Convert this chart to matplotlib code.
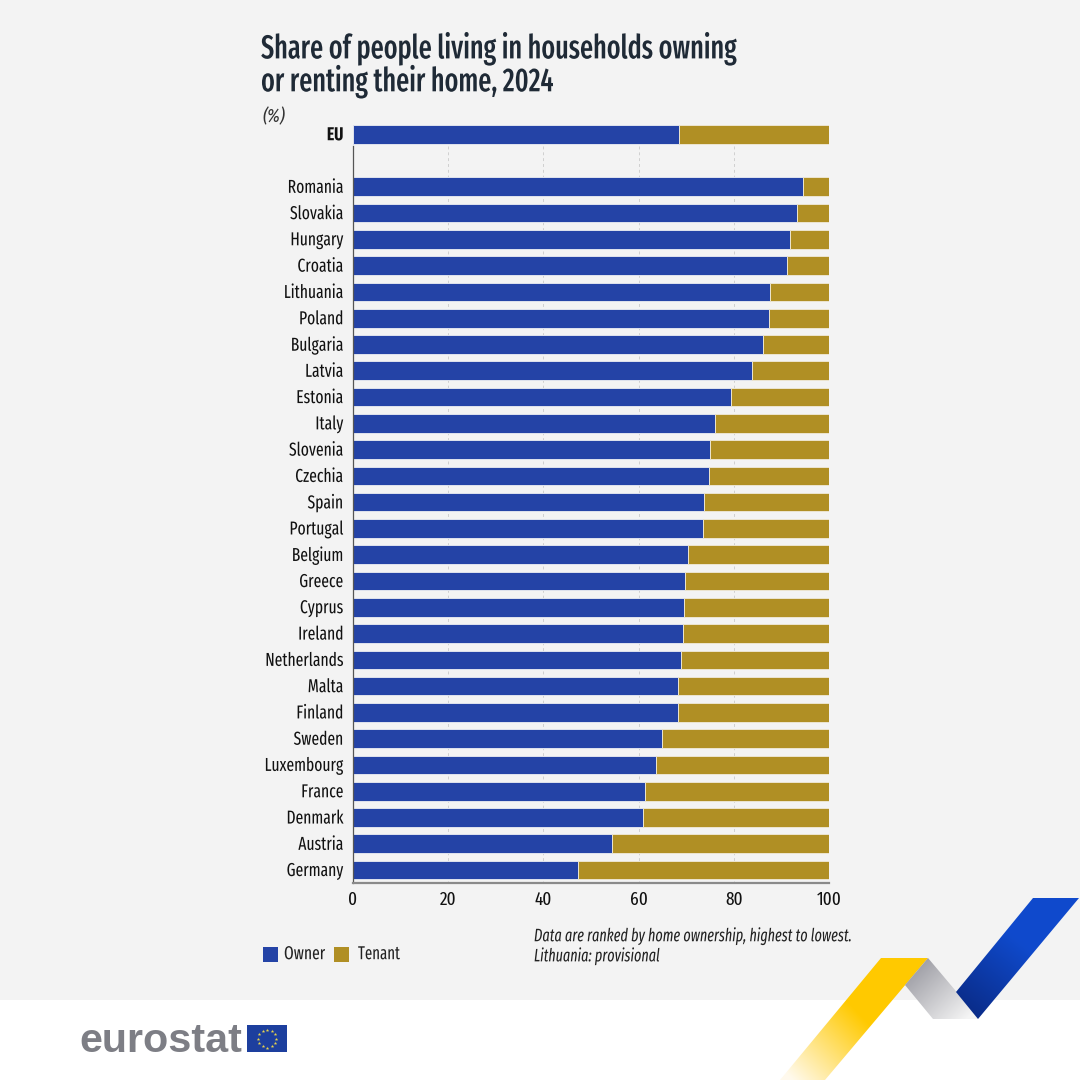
"""Home ownership and renting shares across the EU, 2024, as stacked bars."""

import matplotlib.pyplot as plt
import numpy as np
from matplotlib.patches import Polygon, Rectangle
from matplotlib.patheffects import AbstractPathEffect
from matplotlib.transforms import Affine2D

countries = [
    "EU", "", "Romania", "Slovakia", "Hungary", "Croatia", "Lithuania", "Poland",
    "Bulgaria", "Latvia", "Estonia", "Italy", "Slovenia", "Czechia", "Spain",
    "Portugal", "Belgium", "Greece", "Cyprus", "Ireland", "Netherlands", "Malta",
    "Finland", "Sweden", "Luxembourg", "France", "Denmark", "Austria", "Germany",
]
owner = [
    68.4, 0, 94.5, 93.3, 91.8, 91.2, 87.6, 87.4,
    86.1, 83.8, 79.4, 76.1, 75.0, 74.8, 73.7,
    73.5, 70.4, 69.7, 69.5, 69.4, 68.9, 68.3,
    68.2, 64.9, 63.6, 61.3, 60.9, 54.4, 47.3,
]
tenant = [
    31.6, 0, 5.5, 6.7, 8.2, 8.8, 12.4, 12.6,
    13.9, 16.2, 20.6, 23.9, 25.0, 25.2, 26.3,
    26.5, 29.6, 30.3, 30.5, 30.6, 31.1, 31.7,
    31.8, 35.1, 36.4, 38.7, 39.1, 45.6, 52.7,
]
x_ticks = [0, 20, 40, 60, 80, 100]

BLUE = "#2443a6"
GOLD = "#b08f24"
INK = "#1f2a36"
NARROW = ["Fira Sans Extra Condensed", "DejaVu Sans"]
LABEL_SIZE = 13.5
SIZE = 1080


class Squeeze(AbstractPathEffect):
    """Narrow text horizontally about a fixed x position given in pixels."""

    def __init__(self, factor, anchor_x, dy=0):
        super().__init__()
        self._squeeze = Affine2D().translate(-anchor_x, 0).scale(factor, 1).translate(anchor_x, dy)

    def draw_path(self, renderer, gc, tpath, affine, rgbFace=None):
        renderer.draw_path(gc, tpath, affine + self._squeeze, rgbFace)


def px(x, y):
    """Convert pixel coordinates (origin top left) to figure fractions."""
    return x / SIZE, 1 - y / SIZE


def gradient_polygon(ax, points, start, end, stops):
    """Fill a polygon with a linear gradient running from start to end."""
    xs = np.linspace(0, SIZE, 540)
    ys = np.linspace(0, SIZE, 540)
    gx, gy = np.meshgrid(xs, ys)
    dx, dy = end[0] - start[0], end[1] - start[1]
    t = np.clip(((gx - start[0]) * dx + (gy - start[1]) * dy) / (dx**2 + dy**2), 0, 1)
    rgb = np.stack([np.interp(t, [0, 1], [stops[0][i], stops[1][i]]) for i in range(3)], axis=-1)
    im = ax.imshow(rgb, extent=(0, SIZE, SIZE, 0), interpolation="bilinear", zorder=3)
    patch = Polygon(points, transform=ax.transData, facecolor="none", edgecolor="none")
    ax.add_patch(patch)
    im.set_clip_path(patch)


def draw_background(ax):
    ax.add_patch(Rectangle((0, 0), SIZE, 1000, facecolor="#f3f3f3", edgecolor="none", zorder=0))

    # ribbon shapes in the lower right corner
    gradient_polygon(
        ax,
        [(881, 958), (928, 958), (825, 1080), (780, 1080)],
        (860, 1015), (792, 1080),
        ((1.0, 0.79, 0.0), (1.0, 0.98, 0.93)),
    )
    gradient_polygon(
        ax,
        [(928, 958), (955, 990), (978, 1019), (933, 1019), (905, 985)],
        (912, 965), (965, 1022),
        ((0.60, 0.60, 0.63), (0.96, 0.96, 0.96)),
    )
    gradient_polygon(
        ax,
        [(1033, 898), (1079, 898), (978, 1019), (956, 992)],
        (1030, 950), (975, 1019),
        ((0.06, 0.29, 0.80), (0.04, 0.17, 0.53)),
    )

    # logo with flag
    ax.text(79, 1052, "eurostat", fontsize=29.7, fontweight="bold", family="Liberation Sans",
            color="#7d7e85", va="baseline", ha="left", zorder=4)
    ax.add_patch(Rectangle((247, 1025), 40, 27, facecolor="#1d3f9e", edgecolor="none", zorder=4))
    angles = np.deg2rad(np.arange(0, 360, 30))
    ax.scatter(267 + 9 * np.cos(angles), 1038.5 + 9 * np.sin(angles), marker="*", s=7,
               color="#e8d44d", linewidths=0, zorder=5)


def main() -> None:
    fig = plt.figure(figsize=(10.8, 10.8), dpi=100, facecolor="white")

    bg = fig.add_axes([0, 0, 1, 1])
    bg.set_xlim(0, SIZE)
    bg.set_ylim(SIZE, 0)
    bg.axis("off")
    draw_background(bg)
    bg.set_xlim(0, SIZE)
    bg.set_ylim(SIZE, 0)
    bg.set_aspect("auto")

    left, top = px(353, 120)
    right, bottom = px(829, 883)
    ax = fig.add_axes([left, bottom, right - left, top - bottom])
    ax.patch.set_alpha(0)

    row_h = 26.28
    rows = np.arange(len(countries)) - 2
    ax.set_ylim((883 - 186.8) / row_h, (120 - 186.8) / row_h)
    ax.set_xlim(0, 100)

    # dashed guides start below the EU bar
    ax.vlines(x_ticks[1:], -1.55, (883 - 186.8) / row_h, color="#cfcfcf", linewidth=0.7,
              linestyles=(0, (3, 3)), zorder=1)

    ax.barh(rows, owner, height=0.71, color=BLUE, edgecolor="#dfe3ee", linewidth=0.7,
            label="Owner", zorder=2)
    ax.barh(rows, tenant, left=owner, height=0.71, color=GOLD, edgecolor="#ece5d0",
            linewidth=0.7, label="Tenant", zorder=2)

    for side in ("top", "right"):
        ax.spines[side].set_visible(False)
    ax.spines["left"].set_bounds((883 - 186.8) / row_h, -1.55)
    ax.spines["left"].set_color("#555555")
    ax.spines["left"].set_linewidth(0.9)
    ax.spines["bottom"].set_color("#8a8a8a")
    ax.spines["bottom"].set_linewidth(1.6)

    ax.set_yticks(rows, countries, family=NARROW, fontsize=LABEL_SIZE, color="#111111")
    ax.get_yticklabels()[0].set_fontweight("bold")
    ax.set_xticks(x_ticks, [str(t) for t in x_ticks], family=NARROW, fontsize=LABEL_SIZE, color="#111111")
    ax.tick_params(axis="y", length=0, pad=7)
    ax.tick_params(axis="x", length=0, pad=6)
    for label in ax.get_yticklabels():
        label.set_path_effects([Squeeze(0.9, 343, dy=1)])

    x, y = px(261, 49)
    fig.text(x, y, "Share of people living in households owning", family=NARROW, fontsize=24,
             fontweight=500, color=INK, va="center", path_effects=[Squeeze(0.85, 261)])
    x, y = px(261, 82)
    fig.text(x, y, "or renting their home, 2024", family=NARROW, fontsize=24,
             fontweight=500, color=INK, va="center", path_effects=[Squeeze(0.85, 261)])
    x, y = px(262, 117)
    fig.text(x, y, "(%)", family=NARROW, fontsize=LABEL_SIZE, style="italic", color="#333333", va="center")

    x, y = px(534, 936)
    fig.text(x, y, "Data are ranked by home ownership, highest to lowest.", family=NARROW,
             fontsize=13, style="italic", color="#222222", va="center",
             path_effects=[Squeeze(0.85, 534)])
    x, y = px(534, 956)
    fig.text(x, y, "Lithuania: provisional", family=NARROW, fontsize=13, style="italic",
             color="#222222", va="center", path_effects=[Squeeze(0.85, 534)])

    # legend entries placed by hand
    bg.add_patch(Rectangle((263, 947), 15, 15, facecolor=BLUE, edgecolor="none", zorder=4))
    bg.add_patch(Rectangle((334, 947), 15, 15, facecolor=GOLD, edgecolor="none", zorder=4))
    bg.text(284, 954, "Owner", family=NARROW, fontsize=LABEL_SIZE, color="#222222", va="center", zorder=4,
            path_effects=[Squeeze(0.9, 284)])
    bg.text(358, 954, "Tenant", family=NARROW, fontsize=LABEL_SIZE, color="#222222", va="center", zorder=4,
            path_effects=[Squeeze(0.86, 358)])

    fig.savefig("out.png", dpi=100)


if __name__ == "__main__":
    main()
